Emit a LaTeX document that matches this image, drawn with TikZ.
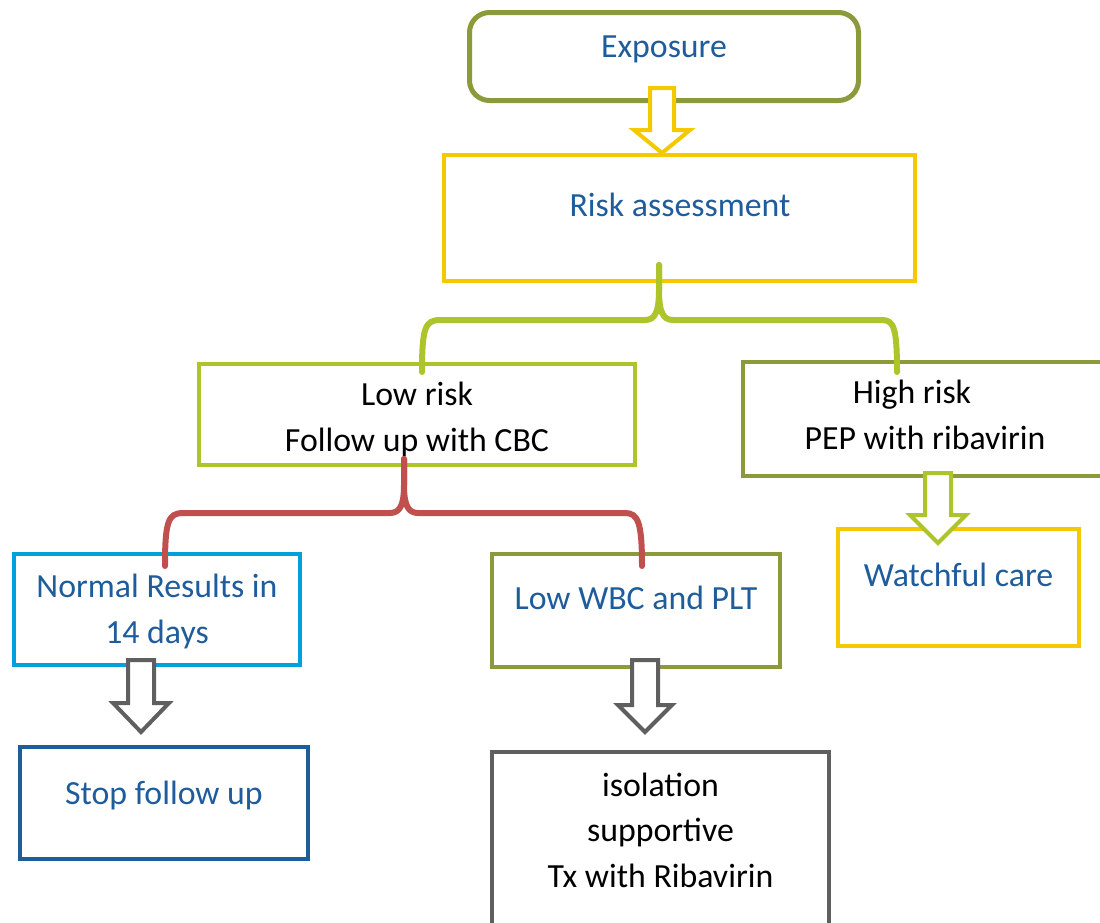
\documentclass[tikz,border=0pt]{standalone}
\usepackage{fontspec}
\setmainfont{Carlito}
\usetikzlibrary{calc}
\definecolor{cOlive}{HTML}{8C9A3B}
\definecolor{cYellow}{HTML}{F5C900}
\definecolor{cLGreen}{HTML}{ADC52B}
\definecolor{cCyan}{HTML}{00A0DC}
\definecolor{cDBlue}{HTML}{1F5D9A}
\definecolor{cGray}{HTML}{5F5F5F}
\definecolor{cRed}{HTML}{C0504D}
\definecolor{cText}{HTML}{1E5C9B}
\tikzset{
  bx/.style={draw=#1, line width=4pt, inner sep=0pt, outer sep=0pt},
  tb/.style={font=\fontsize{33.8}{45.5}\selectfont, text=cText, align=center, anchor=base, inner sep=0pt},
  tk/.style={tb, text=black},
  blk/.style={draw=#1, line width=4pt, fill=white, line join=miter},
  brace/.style={draw=#1, line width=6pt, line cap=round, line join=round},
}
\newcommand\blockarrow[7]{% color, cx, top, shaft hw, head y, head hw, tip
  \draw[blk=#1] (#2-#4,#3) -- (#2+#4,#3) -- (#2+#4,#5) -- (#2+#6,#5) -- (#2,#7) -- (#2-#6,#5) -- (#2-#4,#5) -- cycle;}
\begin{document}
\begin{tikzpicture}[x=1pt,y=-1pt]
\path[use as bounding box] (0,0) rectangle (1100,922);
\clip (0,0) rectangle (1100,922);
% boxes
\node[bx=cOlive, line width=5pt, rounded corners=20pt, minimum width=389pt, minimum height=88pt] (exp) at (664,56.5) {};
\node[bx=cYellow, minimum width=471pt, minimum height=126pt] (risk) at (679.5,218) {};
\node[bx=cLGreen, minimum width=436pt, minimum height=101pt] (low) at (417,414.5) {};
\node[bx=cOlive, minimum width=367pt, minimum height=114pt] (high) at (926.5,419) {};
\node[bx=cCyan, minimum width=286pt, minimum height=111pt] (normal) at (157,609.5) {};
\node[bx=cOlive, minimum width=288pt, minimum height=113pt] (wbc) at (636,610.5) {};
\node[bx=cYellow, minimum width=241pt, minimum height=117pt] (watch) at (958.5,587.5) {};
\node[bx=cDBlue, minimum width=288pt, minimum height=112pt] (stop) at (164,803) {};
\node[bx=cGray, minimum width=337pt, minimum height=188pt] (iso) at (660.5,846) {};
% texts (base anchor = baseline of last line)
\node[tb] (expt) at (664,57) {Exposure};
\node[tb] (riskt) at (680,216) {Risk assessment};
\node[tk] (lowt) at (417,451) {Low risk\\Follow up with CBC};
\node[tk] (hight) at (925,449) {High risk\hspace*{26pt}\\PEP with ribavirin};
\node[tb] (normalt) at (157,643) {Normal Results in\\14 days};
\node[tb] (wbct) at (636,609) {Low WBC and PLT};
\node[tb] (watcht) at (958.5,586) {Watchful care};
\node[tb] (stopt) at (164,804) {Stop follow up};
\node[tk] (isot) at (660.5,887) {isolation\\supportive\\Tx with Ribavirin};
% block arrows
\blockarrow{cYellow}{662}{88}{12}{130}{28}{153}
\blockarrow{cLGreen}{938}{473}{13}{515}{28}{543}
\blockarrow{cGray}{141}{660}{13}{703}{28}{732}
\blockarrow{cGray}{645}{660}{13}{705}{27}{732}
% braces
\coordinate (gtip) at (659,265);
\coordinate (gl) at (422,372);
\coordinate (gr) at (897,372);
\draw[brace=cLGreen] (gl) .. controls (422,328) and (425,320) .. (440,320) -- (645,320) .. controls (655,320) and (659,312) .. (659,290) -- (gtip);
\draw[brace=cLGreen] (gtip) -- (659,290) .. controls (659,312) and (663,320) .. (673,320) -- (882,320) .. controls (894,320) and (897,328) .. (gr);
\coordinate (rtip) at (404,459);
\coordinate (rl) at (165,566);
\coordinate (rr) at (642,566);
\draw[brace=cRed] (rl) .. controls (165,522) and (168,513) .. (183,513) -- (390,513) .. controls (400,513) and (404,505) .. (404,485) -- (rtip);
\draw[brace=cRed] (rtip) -- (404,485) .. controls (404,505) and (408,513) .. (418,513) -- (625,513) .. controls (638,513) and (642,522) .. (rr);
\end{tikzpicture}
\end{document}
